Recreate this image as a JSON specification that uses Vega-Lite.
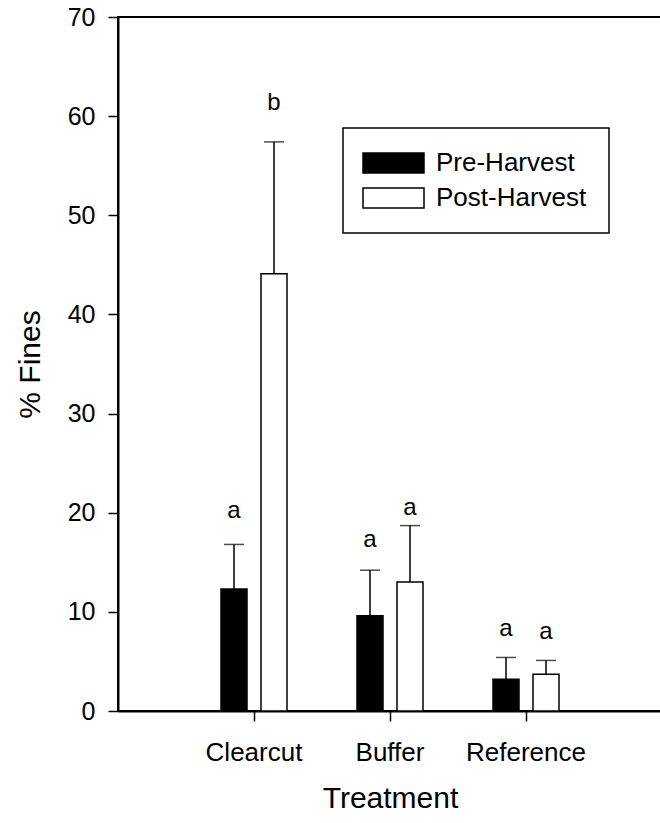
{
  "$schema": "https://vega.github.io/schema/vega-lite/v6.json",
  "width": 544,
  "height": 694,
  "autosize": "none",
  "padding": {"left": 118, "top": 17, "right": 0, "bottom": 112},
  "background": "white",
  "config": {
    "font": "Liberation Sans",
    "view": {"stroke": "black", "strokeWidth": 2},
    "axis": {
      "domainColor": "black",
      "domainWidth": 2,
      "tickColor": "black",
      "tickWidth": 1.5,
      "tickSize": 10,
      "grid": false,
      "labelFont": "Liberation Sans",
      "labelColor": "black",
      "titleFont": "Liberation Sans",
      "titleColor": "black",
      "titleFontWeight": "normal",
      "titleFontSize": 30,
      "labelOverlap": false,
      "labelFlush": false
    },
    "axisY": {
      "labelFontSize": 25,
      "labelPadding": 13,
      "titlePadding": 22
    }
  },
  "data": {
    "values": [
      {"treatment": "Clearcut", "period": "Pre-Harvest", "mean": 12.3, "upper": 16.8, "letter": "a", "letterY": 19.5},
      {"treatment": "Clearcut", "period": "Post-Harvest", "mean": 44.1, "upper": 57.4, "letter": "b", "letterY": 60.6},
      {"treatment": "Buffer", "period": "Pre-Harvest", "mean": 9.6, "upper": 14.2, "letter": "a", "letterY": 16.5},
      {"treatment": "Buffer", "period": "Post-Harvest", "mean": 13.0, "upper": 18.7, "letter": "a", "letterY": 19.8},
      {"treatment": "Reference", "period": "Pre-Harvest", "mean": 3.2, "upper": 5.4, "letter": "a", "letterY": 7.6},
      {"treatment": "Reference", "period": "Post-Harvest", "mean": 3.7, "upper": 5.1, "letter": "a", "letterY": 7.3}
    ]
  },
  "encoding": {
    "x": {
      "field": "treatment",
      "type": "nominal",
      "sort": ["Clearcut", "Buffer", "Reference"],
      "scale": {"paddingInner": 0.4, "paddingOuter": 0.7},
      "axis": {
        "title": "Treatment",
        "labelAngle": 0,
        "labelFontSize": 26,
        "labelPadding": 18,
        "titlePadding": 18
      }
    },
    "xOffset": {
      "field": "period",
      "type": "nominal",
      "sort": ["Pre-Harvest", "Post-Harvest"],
      "scale": {"paddingInner": 0.35, "paddingOuter": 0.195}
    }
  },
  "layer": [
    {
      "mark": {"type": "rule", "color": "black", "strokeWidth": 1.5},
      "encoding": {
        "y": {"field": "mean", "type": "quantitative", "scale": {"domain": [0, 70], "nice": false}, "title": "% Fines", "axis": {"values": [0, 10, 20, 30, 40, 50, 60, 70]}},
        "y2": {"field": "upper"}
      }
    },
    {
      "mark": {"type": "tick", "color": "black", "size": 20, "thickness": 1.5, "orient": "horizontal"},
      "encoding": {
        "y": {"field": "upper", "type": "quantitative", "scale": {"domain": [0, 70], "nice": false}, "title": "% Fines", "axis": {"values": [0, 10, 20, 30, 40, 50, 60, 70]}}
      }
    },
    {
      "mark": {"type": "bar", "stroke": "black", "strokeWidth": 1.5},
      "encoding": {
        "y": {"field": "mean", "type": "quantitative", "scale": {"domain": [0, 70], "nice": false}, "title": "% Fines", "axis": {"values": [0, 10, 20, 30, 40, 50, 60, 70]}},
        "fill": {
          "field": "period",
          "type": "nominal",
          "scale": {"domain": ["Pre-Harvest", "Post-Harvest"], "range": ["black", "white"]},
          "legend": {
            "title": null,
            "orient": "none",
            "legendX": 225,
            "legendY": 111,
            "strokeColor": "black",
            "fillColor": "white",
            "padding": 22,
            "symbolType": "M-1.5,-1H4.6V1H-1.5Z",
            "symbolSize": 400,
            "symbolStrokeColor": "black",
            "symbolStrokeWidth": 1.5,
            "labelFont": "Liberation Sans",
            "labelFontSize": 26,
            "labelColor": "black",
            "labelOffset": 45,
            "labelLimit": 400,
            "rowPadding": 9,
            "encode": {"legend": {"update": {"strokeWidth": {"value": 1.5}}}}
          }
        }
      }
    },
    {
      "mark": {"type": "text", "font": "Liberation Sans", "fontSize": 24, "color": "black", "baseline": "alphabetic", "align": "center"},
      "encoding": {
        "y": {"field": "letterY", "type": "quantitative", "scale": {"domain": [0, 70], "nice": false}, "title": "% Fines", "axis": {"values": [0, 10, 20, 30, 40, 50, 60, 70]}},
        "text": {"field": "letter"}
      }
    }
  ]
}
